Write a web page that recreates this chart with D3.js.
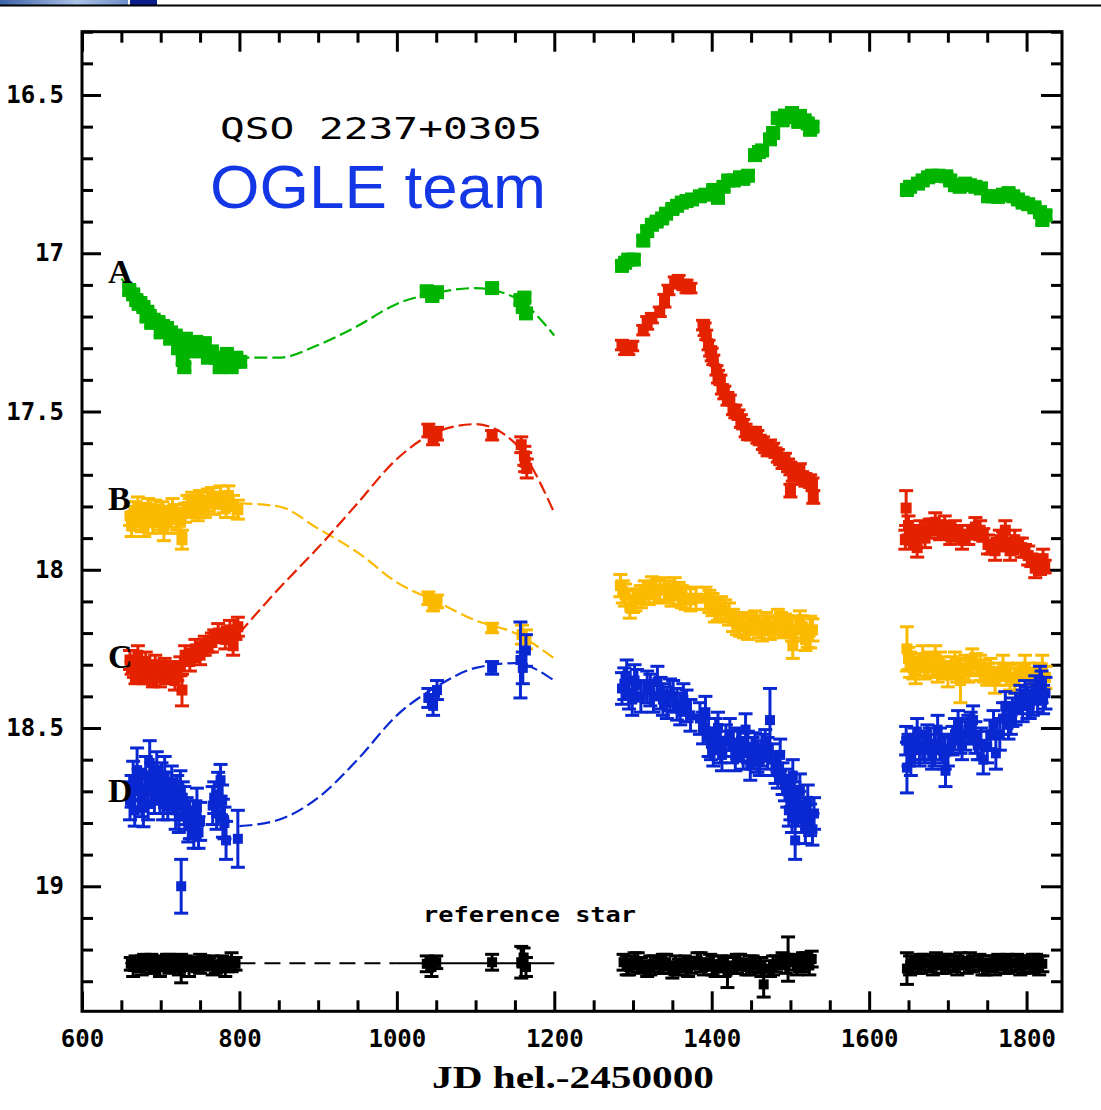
<!DOCTYPE html>
<html lang="en">
<head>
  <meta charset="UTF-8">
  <title>QSO 2237+0305 - OGLE light curves</title>
  <script src="https://d3js.org/d3.v7.min.js"></script>
  <style>
    body { margin: 0; background: #fff; }
    svg { display: block; }
    .tick text { font-family: "DejaVu Sans Mono", monospace; font-weight: bold; font-size: 24px; fill: #000; }
  </style>
</head>
<body>
  <svg width="1101" height="1110"></svg>
  <script>
    // ---- data (JD hel. - 2450000, magnitude, error) ----
    const xTicks = [600, 800, 1000, 1200, 1400, 1600, 1800];
    const yTicks = [16.5, 17, 17.5, 18, 18.5, 19];

    // image A
    const aT = [660,665,669,674,678,683,686,691,697,703,708,713,719,725,728,732,737,745,750,756,765,770,778,784,793,801,
      1038,1045,1051,1121,1157,1160,1164,1162,
      1286,1294,1301,1313,1324,1337,1350,1362,1375,1392,1402,1408,1421,1436,1446,1455,1464,1474,1484,1493,1502,1510,1512,1522,1528,
      1648,1662,1675,1688,1698,1709,1722,1735,1751,1764,1777,1789,1802,1817,1820];
    const aMag = [17.116,17.13,17.148,17.157,17.17,17.185,17.198,17.21,17.217,17.23,17.236,17.25,17.26,17.275,17.337,17.27,17.29,17.28,17.287,17.284,17.31,17.33,17.337,17.318,17.343,17.343,
      17.12,17.135,17.123,17.11,17.148,17.17,17.19,17.14,
      17.04,17.02,17.02,16.96,16.91,16.89,16.86,16.84,16.83,16.815,16.80,16.825,16.77,16.76,16.755,16.69,16.675,16.64,16.573,16.565,16.557,16.585,16.566,16.59,16.60,
      16.80,16.78,16.76,16.755,16.757,16.785,16.78,16.79,16.82,16.822,16.81,16.83,16.845,16.87,16.895];
    const aErr = 0.012;
    const aExtraT = [672,682,688,700,712,722,730,735,742,752,760,775,790,796,
      1290,1318,1330,1342,1356,1368,1385,1415,1428,1440,1460,1478,1490,1505,1518,1525,
      1652,1668,1680,1703,1715,1728,1742,1757,1770,1783,1795,1810,1824];
    const aExtraMag = [17.16,17.20,17.22,17.25,17.27,17.30,17.36,17.31,17.30,17.31,17.33,17.36,17.36,17.33,
      17.03,16.93,16.90,16.875,16.85,16.835,16.82,16.79,16.77,16.765,16.68,16.62,16.58,16.57,16.58,16.61,
      16.79,16.77,16.755,16.77,16.79,16.785,16.795,16.82,16.815,16.82,16.84,16.855,16.88];

    // image B
    const bT = [661,666,671,676,681,686,693,699,704,705,712,718,725,727,731,737,744,750,756,765,773,780,786,798,
      1040,1046,1051,1121,1159,1164,
      1284,1290,1296,1303,1315,1324,1334,1345,1353,1362,1373,1392,1401,1408,1417,1427,1436,1446,1455,1464,1474,1484,1493,1503,1502,1512,1519,1525,
      1648,1652,1659,1668,1675,1684,1690,1700,1709,1716,1722,1731,1741,1754,1760,1770,1779,1785,1798,1811,1820];
    const bMag = [17.83,17.845,17.805,17.85,17.82,17.837,17.81,17.845,17.868,17.83,17.836,17.824,17.85,17.905,17.82,17.805,17.795,17.78,17.805,17.77,17.78,17.79,17.765,17.81,
      18.09,18.11,18.10,18.184,18.205,18.22,
      18.05,18.08,18.118,18.095,18.07,18.057,18.064,18.07,18.06,18.085,18.095,18.09,18.11,18.125,18.13,18.16,18.175,18.185,18.165,18.19,18.185,18.16,18.175,18.24,18.19,18.165,18.22,18.197,
      18.25,18.30,18.32,18.28,18.30,18.28,18.30,18.33,18.30,18.35,18.31,18.29,18.31,18.32,18.35,18.31,18.34,18.35,18.31,18.35,18.31];
    const bErr = [.03,.03,.035,.03,.03,.025,.03,.03,.04,.03,.03,.03,.035,.03,.03,.03,.03,.03,.03,.03,.025,.03,.03,.03,
      .02,.02,.02,.015,.03,.03,
      .035,.035,.035,.035,.035,.035,.035,.035,.035,.035,.035,.035,.035,.035,.035,.035,.035,.035,.035,.035,.035,.035,.035,.04,.035,.035,.035,.05,
      .07,.04,.04,.04,.04,.04,.04,.04,.04,.07,.04,.04,.04,.04,.04,.04,.04,.04,.04,.04,.04];
    const bExtraT = [663,668,674,679,684,690,696,702,708,715,721,734,740,747,753,760,768,776,783,792,
      1287,1300,1310,1320,1329,1340,1349,1358,1367,1380,1397,1404,1412,1422,1432,1441,1450,1460,1469,1479,1488,1497,1507,1515,1522,1528,
      1650,1656,1663,1671,1680,1687,1694,1705,1712,1726,1736,1746,1750,1765,1775,1790,1803,1815,1824];
    const bExtraMag = [17.86,17.82,17.84,17.86,17.81,17.85,17.83,17.82,17.85,17.81,17.84,17.80,17.79,17.81,17.79,17.78,17.79,17.77,17.80,17.80,
      18.07,18.10,18.085,18.075,18.07,18.06,18.08,18.075,18.09,18.09,18.10,18.13,18.12,18.14,18.17,18.18,18.17,18.18,18.17,18.18,18.17,18.18,18.19,18.18,18.21,18.19,
      18.28,18.31,18.30,18.31,18.30,18.32,18.31,18.31,18.32,18.32,18.30,18.32,18.33,18.33,18.33,18.33,18.33,18.33,18.34];

    // image C
    const cT = [661,666,671,676,681,686,693,699,705,712,718,725,727,731,737,744,750,756,765,773,782,788,792,798,
      1040,1046,1051,1121,1158,1162,1163,1165,
      1286,1294,1299,1313,1324,1334,1345,1353,1364,1373,1389,1393,1396,1398,1402,1406,1411,1413,1423,1427,1434,1440,1446,1455,1461,1468,1474,1481,1487,1493,1500,1506,1512,1519,1500,1528,1529,
      1647,1650,1646,1655,1661,1665,1671,1677,1684,1690,1696,1703,1709,1718,1726,1735,1741,1751,1760,1766,1773,1779,1785,1794,1802,1811,1817,1821];
    const cMag = [18.285,18.31,18.27,18.325,18.29,18.33,18.30,18.34,18.31,18.325,18.35,18.305,18.38,18.27,18.29,18.25,18.27,18.24,18.23,18.20,18.22,18.19,18.24,18.18,
      17.56,17.585,17.57,17.575,17.605,17.64,17.66,17.68,
      17.29,17.305,17.293,17.243,17.205,17.185,17.116,17.09,17.10,17.11,17.227,17.258,17.29,17.31,17.337,17.37,17.40,17.43,17.463,17.495,17.51,17.54,17.574,17.565,17.59,17.615,17.605,17.63,17.653,17.647,17.68,17.70,17.685,17.716,17.75,17.73,17.77,
      17.805,17.86,17.905,17.89,17.93,17.875,17.90,17.87,17.85,17.875,17.86,17.89,17.875,17.905,17.89,17.865,17.875,17.92,17.94,17.905,17.875,17.94,17.905,17.93,17.955,17.995,17.985,17.965];
    const cErr = [.03,.03,.03,.03,.03,.03,.03,.03,.03,.03,.03,.03,.05,.03,.03,.03,.03,.03,.03,.03,.03,.03,.03,.03,
      .02,.02,.02,.015,.025,.03,.03,.03,
      .015,.015,.015,.015,.015,.015,.015,.015,.015,.015,.015,.015,.015,.015,.015,.015,.015,.015,.015,.015,.015,.015,.015,.015,.015,.015,.015,.015,.015,.015,.02,.02,.02,.02,.02,.02,.02,
      .055,.03,.03,.03,.03,.03,.03,.03,.03,.03,.03,.03,.03,.03,.03,.03,.03,.03,.03,.03,.03,.03,.03,.03,.03,.03,.03,.03];
    const cExtraT = [663,668,674,679,684,690,696,702,708,715,721,734,740,747,753,760,768,778,785,795,
      1290,1318,1340,1358,1368,1391,1400,1408,1416,1420,1430,1437,1443,1450,1458,1465,1471,1478,1484,1490,1497,1503,1509,1515,1525,
      1652,1658,1668,1674,1680,1687,1693,1700,1706,1713,1722,1730,1745,1755,1763,1770,1776,1782,1790,1798,1806,1814,1823];
    const cExtraMag = [18.31,18.34,18.30,18.34,18.31,18.35,18.32,18.31,18.34,18.31,18.33,18.28,18.27,18.26,18.25,18.24,18.21,18.21,18.20,18.20,
      17.30,17.22,17.15,17.09,17.105,17.24,17.32,17.39,17.44,17.46,17.50,17.53,17.56,17.57,17.58,17.60,17.62,17.62,17.64,17.66,17.67,17.70,17.69,17.71,17.72,
      17.88,17.91,17.885,17.87,17.86,17.87,17.88,17.87,17.89,17.88,17.90,17.88,17.89,17.93,17.92,17.90,17.92,17.93,17.92,17.94,17.97,17.98,17.99];

    // image D
    const dT = [661,665,670,674,678,681,686,690,695,699,705,709,714,719,725,730,737,742,746,750,726,766,773,776,779,783,798,
      1040,1046,1051,1121,1157,1160,1164,
      1286,1292,1299,1305,1322,1331,1338,1347,1356,1364,1373,1392,1396,1402,1408,1413,1423,1430,1436,1443,1449,1455,1461,1468,1474,1481,1487,1493,1500,1503,1509,1512,1519,1522,1528,1506,
      1647,1648,1655,1661,1668,1674,1680,1687,1693,1697,1706,1713,1718,1726,1732,1738,1745,1754,1758,1773,1777,1782,1792,1798,1804,1811,1817,1821];
    const dMag = [18.73,18.665,18.633,18.695,18.752,18.65,18.61,18.68,18.635,18.71,18.65,18.73,18.68,18.76,18.695,18.745,18.79,18.82,18.75,18.795,19.0,18.745,18.71,18.665,18.785,18.855,18.85,
      18.405,18.43,18.38,18.31,18.285,18.31,18.255,
      18.375,18.335,18.41,18.365,18.38,18.355,18.41,18.395,18.425,18.41,18.46,18.45,18.53,18.57,18.50,18.585,18.52,18.585,18.555,18.505,18.615,18.565,18.60,18.555,18.475,18.625,18.585,18.68,18.73,18.65,18.76,18.695,18.805,18.73,18.82,18.855,
      18.54,18.625,18.565,18.52,18.555,18.535,18.585,18.505,18.565,18.635,18.54,18.49,18.555,18.505,18.475,18.555,18.60,18.52,18.49,18.43,18.49,18.45,18.41,18.395,18.425,18.38,18.35,18.41];
    const dErr = [.06,.06,.07,.06,.06,.06,.07,.06,.06,.06,.06,.06,.06,.06,.06,.06,.06,.06,.06,.06,.085,.06,.07,.05,.06,.06,.09,
      .03,.03,.03,.02,.12,.05,.05,
      .05,.05,.05,.05,.05,.05,.05,.05,.05,.05,.05,.05,.06,.05,.05,.05,.05,.05,.05,.05,.05,.05,.05,.05,.1,.05,.05,.05,.06,.05,.05,.05,.06,.05,.05,.06,
      .045,.08,.045,.05,.045,.045,.045,.045,.045,.05,.045,.045,.045,.045,.045,.045,.045,.045,.045,.045,.045,.045,.045,.045,.045,.045,.045,.045];
    const dExtraT = [663,667,672,676,680,684,688,692,697,701,703,707,711,716,721,723,728,733,735,739,744,748,768,771,778,781,
      1289,1295,1302,1310,1318,1326,1335,1343,1351,1360,1368,1385,1389,1399,1405,1411,1418,1426,1433,1440,1446,1452,1458,1464,1471,1477,1484,1490,1496,1498,1502,1505,1511,1515,1521,1525,1530,
      1650,1653,1658,1664,1671,1677,1683,1690,1696,1700,1709,1716,1722,1729,1735,1742,1750,1761,1766,1770,1780,1786,1795,1801,1808,1814,1819,1824];
    const dExtraMag = [18.70,18.76,18.68,18.73,18.70,18.74,18.66,18.72,18.69,18.66,18.74,18.69,18.71,18.72,18.70,18.78,18.72,18.77,18.81,18.80,18.78,18.83,18.72,18.77,18.73,18.80,
      18.36,18.39,18.35,18.40,18.37,18.40,18.39,18.42,18.40,18.44,18.43,18.47,18.50,18.55,18.52,18.56,18.54,18.56,18.55,18.58,18.56,18.58,18.59,18.57,18.58,18.60,18.64,18.66,18.70,18.76,18.78,18.72,18.75,18.78,18.77,18.79,18.77,
      18.57,18.60,18.55,18.57,18.56,18.55,18.57,18.55,18.58,18.57,18.52,18.53,18.52,18.50,18.53,18.55,18.56,18.58,18.52,18.47,18.47,18.44,18.43,18.42,18.41,18.40,18.37,18.39];

    // reference star
    const refT = [662,668,673,679,685,690,696,702,708,714,720,726,732,740,747,755,762,770,778,785,795,
      1038,1044,1050,1121,1158,1161,1164,
      1288,1295,1302,1310,1318,1326,1334,1342,1350,1358,1366,1374,1382,1390,1398,1405,1412,1420,1428,1436,1444,1452,1460,1466,1474,1482,1490,1497,1504,1512,1520,1527,
      1648,1655,1662,1670,1678,1685,1692,1700,1708,1716,1724,1732,1740,1748,1756,1764,1772,1780,1788,1796,1804,1812,1820];
    const refMag = [19.245,19.24,19.25,19.235,19.245,19.255,19.24,19.245,19.235,19.25,19.245,19.26,19.24,19.245,19.25,19.24,19.245,19.255,19.24,19.25,19.245,
      19.245,19.255,19.24,19.24,19.24,19.225,19.255,
      19.24,19.255,19.235,19.25,19.26,19.245,19.25,19.24,19.265,19.255,19.245,19.25,19.235,19.255,19.24,19.26,19.245,19.27,19.25,19.24,19.255,19.245,19.25,19.31,19.26,19.245,19.235,19.23,19.24,19.245,19.235,19.23,
      19.26,19.245,19.25,19.24,19.245,19.235,19.25,19.24,19.245,19.235,19.25,19.245,19.24,19.255,19.245,19.24,19.25,19.245,19.24,19.25,19.245,19.24,19.245];
    const refErr = [.02,.02,.02,.02,.02,.02,.02,.02,.02,.02,.02,.045,.02,.02,.02,.02,.02,.02,.02,.02,.02,
      .025,.03,.02,.025,.05,.03,.03,
      .025,.025,.025,.025,.025,.025,.025,.025,.025,.025,.025,.025,.025,.025,.025,.025,.025,.05,.025,.025,.025,.025,.025,.04,.025,.025,.025,.07,.025,.025,.025,.025,
      .05,.025,.025,.025,.025,.025,.025,.025,.025,.025,.025,.025,.025,.025,.025,.025,.025,.025,.025,.025,.025,.025,.025];
    const refExtraT = [665,676,688,699,711,723,736,750,766,782,790,
      1292,1306,1322,1338,1354,1370,1386,1401,1416,1432,1448,1463,1478,1494,1508,1516,1524,
      1652,1666,1681,1696,1712,1728,1744,1760,1776,1792,1808,1816];
    const refExtraMag = [19.255,19.25,19.245,19.255,19.245,19.25,19.255,19.245,19.25,19.255,19.24,
      19.25,19.24,19.25,19.245,19.25,19.255,19.24,19.25,19.255,19.245,19.25,19.255,19.25,19.245,19.25,19.24,19.25,
      19.25,19.245,19.25,19.245,19.25,19.24,19.25,19.25,19.245,19.25,19.245,19.25];

    // model curves across the gap
    const modelT = [650, 700, 750, 800, 850, 900, 950, 1000, 1050, 1100, 1150, 1200];
    const modelA = [17.08, 17.22, 17.30, 17.33, 17.33, 17.29, 17.23, 17.16, 17.125, 17.11, 17.14, 17.26];
    const modelB = [null, null, null, 17.79, 17.80, 17.87, 17.945, 18.04, 18.10, 18.16, 18.20, 18.28];
    const modelC = [null, null, null, 18.20, 18.06, 17.93, 17.79, 17.65, 17.565, 17.54, 17.60, 17.82];
    const modelD = [null, null, null, 18.81, 18.79, 18.72, 18.60, 18.46, 18.37, 18.31, 18.295, 18.35];
    const refLevel = 19.243;
    const refSolid = [[655, 800], [1000, 1200]];
    const refDashed = [800, 1000];

    const colA = "#00b400", colB = "#fbba00", colC = "#e42200", colD = "#0a28d2";

    // ---- layout ----
    const svg = d3.select("svg");
    const plotLeft = 82, plotRight = 1062, plotTop = 31.7, plotBottom = 1011.3;

    const x = d3.scaleLinear().domain([600, 1845]).range([plotLeft, plotRight]);
    const y = d3.scaleLinear().domain([16.3, 19.395]).range([plotTop, plotBottom]);

    // strip at top of the screenshot
    const grad = svg.append("defs").append("linearGradient").attr("id", "bar");
    grad.append("stop").attr("offset", "0%").attr("stop-color", "#3d62a8");
    grad.append("stop").attr("offset", "60%").attr("stop-color", "#a9c1e6");
    grad.append("stop").attr("offset", "100%").attr("stop-color", "#6f8fc8");
    svg.append("rect").attr("x", 0).attr("y", 0).attr("width", 128).attr("height", 5).attr("fill", "url(#bar)");
    svg.append("rect").attr("x", 130).attr("y", 0).attr("width", 27).attr("height", 5).attr("fill", "#0b1f8c");
    svg.append("line").attr("x1", 0).attr("x2", 1101).attr("y1", 5.5).attr("y2", 5.5)
      .attr("stroke", "#000").attr("stroke-width", 2);

    // ---- axes ----
    const xMinor = d3.range(600, 1846, 50).filter(v => v % 200 !== 0);
    const yMinor = d3.range(16.3, 19.35, 0.1).map(v => +v.toFixed(1)).filter(v => Math.abs(v * 2 - Math.round(v * 2)) > 1e-6);

    function styleAxis(g) {
      g.select(".domain").remove();
      g.selectAll(".tick line").attr("stroke", "#000").attr("stroke-width", 3);
    }

    svg.append("g").attr("transform", `translate(0,${plotBottom})`)
      .call(d3.axisBottom(x).tickValues(xTicks).tickFormat(d3.format("d"))
        .tickSizeInner(-20).tickSizeOuter(0).tickPadding(19))
      .call(styleAxis);
    svg.append("g").attr("transform", `translate(0,${plotBottom})`)
      .call(d3.axisBottom(x).tickValues(xMinor).tickSizeInner(-11).tickSizeOuter(0).tickFormat(""))
      .call(styleAxis);
    svg.append("g").attr("transform", `translate(0,${plotTop})`)
      .call(d3.axisTop(x).tickValues(xTicks).tickSizeInner(-20).tickSizeOuter(0).tickFormat(""))
      .call(styleAxis);
    svg.append("g").attr("transform", `translate(0,${plotTop})`)
      .call(d3.axisTop(x).tickValues(xMinor).tickSizeInner(-11).tickSizeOuter(0).tickFormat(""))
      .call(styleAxis);

    svg.append("g").attr("transform", `translate(${plotLeft},0)`)
      .call(d3.axisLeft(y).tickValues(yTicks).tickFormat(d => String(d))
        .tickSizeInner(-19).tickSizeOuter(0).tickPadding(18))
      .call(styleAxis);
    svg.append("g").attr("transform", `translate(${plotLeft},0)`)
      .call(d3.axisLeft(y).tickValues(yMinor).tickSizeInner(-11).tickSizeOuter(0).tickFormat(""))
      .call(styleAxis);
    svg.append("g").attr("transform", `translate(${plotRight},0)`)
      .call(d3.axisRight(y).tickValues(yTicks).tickSizeInner(-21).tickSizeOuter(0).tickFormat(""))
      .call(styleAxis);
    svg.append("g").attr("transform", `translate(${plotRight},0)`)
      .call(d3.axisRight(y).tickValues(yMinor).tickSizeInner(-11).tickSizeOuter(0).tickFormat(""))
      .call(styleAxis);

    svg.append("rect")
      .attr("x", plotLeft).attr("y", plotTop)
      .attr("width", plotRight - plotLeft).attr("height", plotBottom - plotTop)
      .attr("fill", "none").attr("stroke", "#000").attr("stroke-width", 3);

    svg.append("text")
      .attr("x", 432).attr("y", 1088)
      .attr("textLength", 282).attr("lengthAdjust", "spacingAndGlyphs")
      .style("font-family", "'Liberation Serif', serif").style("font-weight", "bold").style("font-size", "32px")
      .text("JD hel.-2450000");

    // ---- model curves ----
    const line = d3.line()
      .defined(d => d[1] != null)
      .x(d => x(d[0])).y(d => y(d[1]))
      .curve(d3.curveMonotoneX);

    [[modelA, colA], [modelB, colB], [modelC, colC], [modelD, colD]].forEach(([vals, col]) => {
      svg.append("path")
        .datum(modelT.map((t, i) => [t, vals[i]]))
        .attr("d", line)
        .attr("fill", "none").attr("stroke", col).attr("stroke-width", 2.2)
        .attr("stroke-dasharray", "13,5");
    });

    // reference star line
    refSolid.forEach(seg => {
      svg.append("line")
        .attr("x1", x(seg[0])).attr("x2", x(seg[1]))
        .attr("y1", y(refLevel)).attr("y2", y(refLevel))
        .attr("stroke", "#000").attr("stroke-width", 2);
    });
    svg.append("line")
      .attr("x1", x(refDashed[0])).attr("x2", x(refDashed[1]))
      .attr("y1", y(refLevel)).attr("y2", y(refLevel))
      .attr("stroke", "#000").attr("stroke-width", 2).attr("stroke-dasharray", "16,9");

    // ---- points with error bars ----
    function drawSeries(ts, ms, es, col, size) {
      const rows = ts.map((t, i) => ({ t: t, m: ms[i], e: Array.isArray(es) ? es[i] : es }));
      const g = svg.append("g");
      g.selectAll("line.bar").data(rows).join("line").attr("class", "bar")
        .attr("x1", d => x(d.t)).attr("x2", d => x(d.t))
        .attr("y1", d => y(d.m - d.e)).attr("y2", d => y(d.m + d.e))
        .attr("stroke", col).attr("stroke-width", 3);
      g.selectAll("line.capTop").data(rows).join("line").attr("class", "capTop")
        .attr("x1", d => x(d.t) - 7).attr("x2", d => x(d.t) + 7)
        .attr("y1", d => y(d.m - d.e)).attr("y2", d => y(d.m - d.e))
        .attr("stroke", col).attr("stroke-width", 3);
      g.selectAll("line.capBot").data(rows).join("line").attr("class", "capBot")
        .attr("x1", d => x(d.t) - 7).attr("x2", d => x(d.t) + 7)
        .attr("y1", d => y(d.m + d.e)).attr("y2", d => y(d.m + d.e))
        .attr("stroke", col).attr("stroke-width", 3);
      g.selectAll("rect").data(rows).join("rect")
        .attr("x", d => x(d.t) - size / 2).attr("y", d => y(d.m) - size / 2)
        .attr("width", size).attr("height", size)
        .attr("fill", col);
    }

    drawSeries(refExtraT, refExtraMag, 0.03, "#000", 10);
    drawSeries(refT, refMag, refErr, "#000", 10);
    drawSeries(aExtraT, aExtraMag, aErr, colA, 14);
    drawSeries(aT, aMag, aErr, colA, 14);
    drawSeries(bExtraT, bExtraMag, 0.035, colB, 11);
    drawSeries(bT, bMag, bErr, colB, 11);
    drawSeries(cExtraT, cExtraMag, 0.02, colC, 11);
    drawSeries(cT, cMag, cErr, colC, 11);
    drawSeries(dExtraT, dExtraMag, 0.05, colD, 10);
    drawSeries(dT, dMag, dErr, colD, 10);

    // ---- labels ----
    const letters = [["A", 283], ["B", 510], ["C", 668], ["D", 802]];
    letters.forEach(([s, yy]) => {
      svg.append("text").attr("x", 108).attr("y", yy)
        .style("font-family", "'Liberation Serif', serif").style("font-weight", "bold").style("font-size", "34px")
        .text(s);
    });

    svg.append("text")
      .attr("x", 220).attr("y", 139)
      .attr("textLength", 322).attr("lengthAdjust", "spacingAndGlyphs")
      .style("font-family", "'DejaVu Sans Mono', monospace").style("font-size", "31px")
      .text("QSO 2237+0305");

    svg.append("text")
      .attr("x", 210).attr("y", 208)
      .attr("textLength", 336).attr("lengthAdjust", "spacingAndGlyphs")
      .style("font-family", "'Liberation Sans', Arial, sans-serif").style("font-size", "61px")
      .attr("fill", "#1437e6")
      .text("OGLE team");

    svg.append("text")
      .attr("x", 423).attr("y", 922)
      .attr("textLength", 213).attr("lengthAdjust", "spacingAndGlyphs")
      .style("font-family", "'DejaVu Sans Mono', monospace").style("font-weight", "bold").style("font-size", "21px")
      .text("reference star");
  </script>
</body>
</html>
